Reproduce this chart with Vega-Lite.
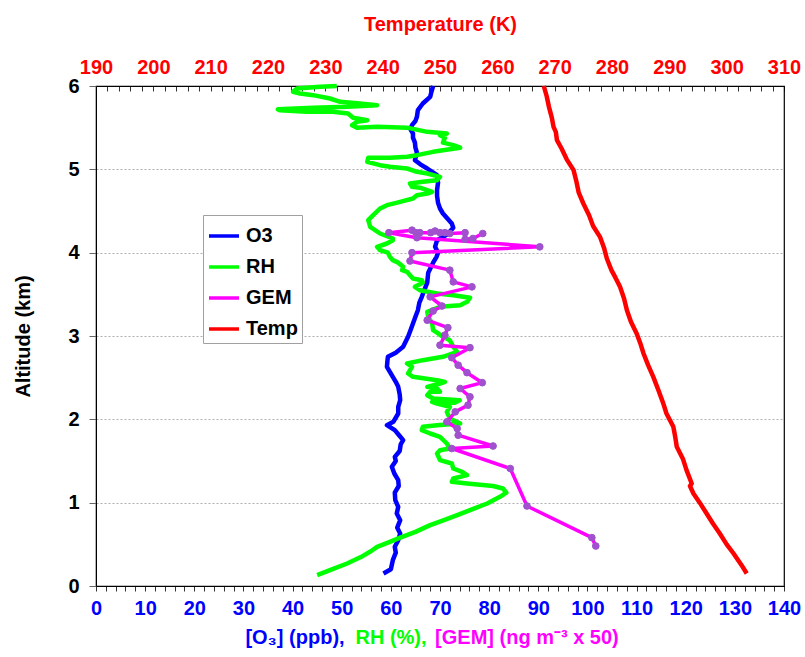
{
  "$schema": "https://vega.github.io/schema/vega-lite/v6.json",
  "width": 688,
  "height": 500,
  "autosize": "none",
  "padding": {"left": 96, "top": 86, "right": 21, "bottom": 71},
  "background": "white",
  "config": {
    "font": "Liberation Sans",
    "view": {"stroke": "black", "strokeWidth": 1.2},
    "axis": {"labelFont": "Liberation Sans", "titleFont": "Liberation Sans", "labelOverlap": false},
    "legend": {"labelFont": "Liberation Sans"}
  },
  "datasets": {
    "o3": [
      {"alt": 0.15, "val": 58.5}, {"alt": 0.2, "val": 60.0}, {"alt": 0.31, "val": 60.4}, {"alt": 0.4, "val": 61.0},
      {"alt": 0.47, "val": 60.8}, {"alt": 0.55, "val": 61.5}, {"alt": 0.63, "val": 61.9}, {"alt": 0.7, "val": 61.3},
      {"alt": 0.79, "val": 61.9}, {"alt": 0.87, "val": 61.2}, {"alt": 0.95, "val": 61.5}, {"alt": 1.03, "val": 60.9},
      {"alt": 1.12, "val": 60.8}, {"alt": 1.2, "val": 61.6}, {"alt": 1.27, "val": 61.5}, {"alt": 1.35, "val": 60.7},
      {"alt": 1.43, "val": 60.2}, {"alt": 1.5, "val": 61.0}, {"alt": 1.55, "val": 60.8}, {"alt": 1.62, "val": 61.8},
      {"alt": 1.7, "val": 62.0}, {"alt": 1.75, "val": 62.5}, {"alt": 1.8, "val": 61.8}, {"alt": 1.87, "val": 60.8},
      {"alt": 1.93, "val": 59.2}, {"alt": 1.97, "val": 60.5}, {"alt": 2.07, "val": 61.5}, {"alt": 2.15, "val": 61.5},
      {"alt": 2.23, "val": 61.9}, {"alt": 2.3, "val": 61.8}, {"alt": 2.39, "val": 61.5}, {"alt": 2.45, "val": 61.0},
      {"alt": 2.51, "val": 60.4}, {"alt": 2.57, "val": 59.8}, {"alt": 2.63, "val": 59.2}, {"alt": 2.7, "val": 59.3},
      {"alt": 2.75, "val": 59.4}, {"alt": 2.8, "val": 61.0}, {"alt": 2.87, "val": 62.5}, {"alt": 2.93, "val": 63.0},
      {"alt": 2.99, "val": 63.5}, {"alt": 3.07, "val": 64.0}, {"alt": 3.15, "val": 64.5}, {"alt": 3.23, "val": 65.0},
      {"alt": 3.31, "val": 65.5}, {"alt": 3.4, "val": 65.8}, {"alt": 3.47, "val": 66.3}, {"alt": 3.55, "val": 66.8},
      {"alt": 3.64, "val": 67.4}, {"alt": 3.76, "val": 67.6}, {"alt": 3.88, "val": 68.6}, {"alt": 3.95, "val": 69.3},
      {"alt": 4.0, "val": 69.6}, {"alt": 4.07, "val": 69.0}, {"alt": 4.15, "val": 69.4}, {"alt": 4.22, "val": 71.5},
      {"alt": 4.3, "val": 72.7}, {"alt": 4.35, "val": 72.4}, {"alt": 4.41, "val": 71.5}, {"alt": 4.47, "val": 70.6},
      {"alt": 4.53, "val": 70.0}, {"alt": 4.6, "val": 69.6}, {"alt": 4.68, "val": 69.4}, {"alt": 4.75, "val": 69.4},
      {"alt": 4.84, "val": 69.6}, {"alt": 4.93, "val": 69.4}, {"alt": 5.01, "val": 67.4}, {"alt": 5.06, "val": 66.0},
      {"alt": 5.11, "val": 64.9}, {"alt": 5.2, "val": 65.3}, {"alt": 5.26, "val": 65.0}, {"alt": 5.32, "val": 64.9},
      {"alt": 5.38, "val": 64.5}, {"alt": 5.43, "val": 64.5}, {"alt": 5.48, "val": 64.0}, {"alt": 5.53, "val": 64.3},
      {"alt": 5.58, "val": 65.0}, {"alt": 5.63, "val": 65.3}, {"alt": 5.71, "val": 65.5}, {"alt": 5.79, "val": 66.5},
      {"alt": 5.87, "val": 68.0}, {"alt": 5.94, "val": 68.3}, {"alt": 6.0, "val": 68.6}
    ],
    "rh": [
      {"alt": 0.13, "val": 45.0}, {"alt": 0.2, "val": 48.0}, {"alt": 0.27, "val": 51.1}, {"alt": 0.35, "val": 54.0},
      {"alt": 0.42, "val": 56.0}, {"alt": 0.47, "val": 57.2}, {"alt": 0.53, "val": 59.8}, {"alt": 0.58, "val": 61.9},
      {"alt": 0.65, "val": 65.0}, {"alt": 0.73, "val": 68.0}, {"alt": 0.79, "val": 70.8}, {"alt": 0.85, "val": 73.5},
      {"alt": 0.92, "val": 76.5}, {"alt": 0.99, "val": 79.6}, {"alt": 1.07, "val": 82.2}, {"alt": 1.12, "val": 83.5},
      {"alt": 1.17, "val": 82.8}, {"alt": 1.2, "val": 80.8}, {"alt": 1.23, "val": 75.5}, {"alt": 1.25, "val": 72.4},
      {"alt": 1.29, "val": 72.7}, {"alt": 1.33, "val": 75.5}, {"alt": 1.37, "val": 74.5}, {"alt": 1.41, "val": 72.7},
      {"alt": 1.47, "val": 72.4}, {"alt": 1.51, "val": 70.0}, {"alt": 1.59, "val": 69.4}, {"alt": 1.63, "val": 70.0},
      {"alt": 1.65, "val": 72.0}, {"alt": 1.71, "val": 71.4}, {"alt": 1.79, "val": 70.0}, {"alt": 1.83, "val": 68.0},
      {"alt": 1.87, "val": 66.3}, {"alt": 1.91, "val": 66.5}, {"alt": 1.93, "val": 69.4}, {"alt": 1.95, "val": 74.1},
      {"alt": 2.01, "val": 72.0}, {"alt": 2.09, "val": 71.4}, {"alt": 2.15, "val": 72.0}, {"alt": 2.19, "val": 69.4},
      {"alt": 2.21, "val": 68.4}, {"alt": 2.2, "val": 73.0}, {"alt": 2.23, "val": 74.0}, {"alt": 2.25, "val": 68.6},
      {"alt": 2.29, "val": 67.4}, {"alt": 2.33, "val": 68.0}, {"alt": 2.33, "val": 70.0}, {"alt": 2.37, "val": 69.4},
      {"alt": 2.39, "val": 67.4}, {"alt": 2.43, "val": 70.0}, {"alt": 2.45, "val": 71.0}, {"alt": 2.47, "val": 69.4},
      {"alt": 2.51, "val": 64.5}, {"alt": 2.55, "val": 63.5}, {"alt": 2.63, "val": 64.3}, {"alt": 2.67, "val": 63.3},
      {"alt": 2.71, "val": 66.5}, {"alt": 2.75, "val": 70.6}, {"alt": 2.81, "val": 73.5}, {"alt": 2.87, "val": 72.7},
      {"alt": 2.95, "val": 72.0}, {"alt": 2.99, "val": 70.6}, {"alt": 3.04, "val": 69.4}, {"alt": 3.07, "val": 68.6},
      {"alt": 3.15, "val": 68.4}, {"alt": 3.23, "val": 67.6}, {"alt": 3.29, "val": 67.4}, {"alt": 3.35, "val": 70.0},
      {"alt": 3.37, "val": 74.1}, {"alt": 3.41, "val": 75.5}, {"alt": 3.46, "val": 76.1}, {"alt": 3.49, "val": 72.7},
      {"alt": 3.51, "val": 69.4}, {"alt": 3.55, "val": 65.9}, {"alt": 3.59, "val": 64.9}, {"alt": 3.64, "val": 66.5},
      {"alt": 3.67, "val": 66.3}, {"alt": 3.69, "val": 64.5}, {"alt": 3.73, "val": 63.9}, {"alt": 3.77, "val": 63.3},
      {"alt": 3.79, "val": 62.3}, {"alt": 3.83, "val": 62.5}, {"alt": 3.88, "val": 61.5}, {"alt": 3.91, "val": 60.4},
      {"alt": 3.95, "val": 59.8}, {"alt": 4.0, "val": 59.4}, {"alt": 4.03, "val": 57.8}, {"alt": 4.07, "val": 57.2},
      {"alt": 4.11, "val": 59.2}, {"alt": 4.15, "val": 60.4}, {"alt": 4.17, "val": 60.4}, {"alt": 4.23, "val": 57.8},
      {"alt": 4.31, "val": 55.8}, {"alt": 4.39, "val": 55.4}, {"alt": 4.45, "val": 56.4}, {"alt": 4.53, "val": 57.8},
      {"alt": 4.57, "val": 59.2}, {"alt": 4.6, "val": 61.3}, {"alt": 4.65, "val": 64.5}, {"alt": 4.69, "val": 65.3},
      {"alt": 4.71, "val": 67.4}, {"alt": 4.73, "val": 68.4}, {"alt": 4.78, "val": 65.9}, {"alt": 4.79, "val": 64.3},
      {"alt": 4.83, "val": 63.9}, {"alt": 4.85, "val": 66.5}, {"alt": 4.87, "val": 69.4}, {"alt": 4.91, "val": 70.0},
      {"alt": 4.95, "val": 67.4}, {"alt": 4.97, "val": 65.3}, {"alt": 5.01, "val": 63.3}, {"alt": 5.03, "val": 59.8},
      {"alt": 5.05, "val": 57.8}, {"alt": 5.09, "val": 55.2}, {"alt": 5.14, "val": 55.4}, {"alt": 5.14, "val": 59.8},
      {"alt": 5.15, "val": 63.3}, {"alt": 5.17, "val": 65.3}, {"alt": 5.21, "val": 68.6}, {"alt": 5.23, "val": 70.6},
      {"alt": 5.26, "val": 74.1}, {"alt": 5.29, "val": 72.7}, {"alt": 5.32, "val": 70.6}, {"alt": 5.38, "val": 71.0},
      {"alt": 5.41, "val": 70.0}, {"alt": 5.43, "val": 71.4}, {"alt": 5.45, "val": 67.4}, {"alt": 5.5, "val": 63.3},
      {"alt": 5.51, "val": 57.2}, {"alt": 5.5, "val": 53.1}, {"alt": 5.53, "val": 52.1}, {"alt": 5.57, "val": 53.1},
      {"alt": 5.59, "val": 55.2}, {"alt": 5.62, "val": 52.3}, {"alt": 5.67, "val": 51.3}, {"alt": 5.69, "val": 48.2},
      {"alt": 5.69, "val": 42.9}, {"alt": 5.71, "val": 37.4}, {"alt": 5.72, "val": 37.0}, {"alt": 5.74, "val": 44.2},
      {"alt": 5.75, "val": 51.1}, {"alt": 5.77, "val": 57.2}, {"alt": 5.79, "val": 53.7}, {"alt": 5.81, "val": 49.7},
      {"alt": 5.85, "val": 47.6}, {"alt": 5.89, "val": 44.2}, {"alt": 5.91, "val": 41.5}, {"alt": 5.93, "val": 40.1},
      {"alt": 5.97, "val": 40.9}, {"alt": 5.99, "val": 45.6}, {"alt": 6.0, "val": 49.0}
    ],
    "gem": [
      {"alt": 0.48, "val": 101.7}, {"alt": 0.58, "val": 100.9}, {"alt": 0.96, "val": 87.7}, {"alt": 1.41, "val": 84.3},
      {"alt": 1.65, "val": 72.4}, {"alt": 1.68, "val": 80.8}, {"alt": 1.81, "val": 73.7}, {"alt": 1.89, "val": 73.5},
      {"alt": 1.97, "val": 71.4}, {"alt": 2.09, "val": 73.1}, {"alt": 2.17, "val": 75.7}, {"alt": 2.27, "val": 76.1},
      {"alt": 2.37, "val": 74.1}, {"alt": 2.44, "val": 78.6}, {"alt": 2.56, "val": 75.5}, {"alt": 2.65, "val": 73.7},
      {"alt": 2.74, "val": 72.4}, {"alt": 2.86, "val": 76.1}, {"alt": 2.89, "val": 70.0}, {"alt": 3.01, "val": 71.0},
      {"alt": 3.1, "val": 71.6}, {"alt": 3.19, "val": 67.4}, {"alt": 3.3, "val": 68.6}, {"alt": 3.36, "val": 70.4},
      {"alt": 3.47, "val": 68.0}, {"alt": 3.59, "val": 76.5}, {"alt": 3.65, "val": 72.7}, {"alt": 3.79, "val": 72.0},
      {"alt": 3.9, "val": 63.9}, {"alt": 4.0, "val": 64.3}, {"alt": 4.07, "val": 90.3}, {"alt": 4.18, "val": 65.3},
      {"alt": 4.24, "val": 59.6}, {"alt": 4.27, "val": 64.3}, {"alt": 4.24, "val": 65.1}, {"alt": 4.24, "val": 65.9},
      {"alt": 4.24, "val": 68.1}, {"alt": 4.26, "val": 69.0}, {"alt": 4.24, "val": 70.0}, {"alt": 4.24, "val": 71.0},
      {"alt": 4.23, "val": 72.0}, {"alt": 4.24, "val": 75.1}, {"alt": 4.16, "val": 75.1}, {"alt": 4.17, "val": 76.7},
      {"alt": 4.23, "val": 78.7}
    ],
    "temp": [
      {"alt": 0.15, "val": 303.5}, {"alt": 0.25, "val": 302.6}, {"alt": 0.39, "val": 301.2}, {"alt": 0.5, "val": 300.0},
      {"alt": 0.63, "val": 298.8}, {"alt": 0.75, "val": 297.6}, {"alt": 0.87, "val": 296.5}, {"alt": 1.0, "val": 295.3},
      {"alt": 1.11, "val": 294.2}, {"alt": 1.2, "val": 293.6}, {"alt": 1.23, "val": 293.9}, {"alt": 1.39, "val": 293.0},
      {"alt": 1.52, "val": 292.4}, {"alt": 1.67, "val": 291.3}, {"alt": 1.8, "val": 291.0}, {"alt": 1.91, "val": 290.7},
      {"alt": 2.07, "val": 289.5}, {"alt": 2.2, "val": 288.9}, {"alt": 2.35, "val": 288.1}, {"alt": 2.51, "val": 287.2},
      {"alt": 2.65, "val": 286.3}, {"alt": 2.79, "val": 285.5}, {"alt": 2.9, "val": 285.0}, {"alt": 3.03, "val": 284.3},
      {"alt": 3.17, "val": 283.3}, {"alt": 3.31, "val": 282.6}, {"alt": 3.45, "val": 282.1}, {"alt": 3.59, "val": 281.4},
      {"alt": 3.7, "val": 280.6}, {"alt": 3.79, "val": 279.9}, {"alt": 3.93, "val": 279.1}, {"alt": 4.06, "val": 278.6},
      {"alt": 4.19, "val": 277.9}, {"alt": 4.32, "val": 276.7}, {"alt": 4.45, "val": 276.0}, {"alt": 4.59, "val": 275.0},
      {"alt": 4.72, "val": 274.2}, {"alt": 4.85, "val": 273.8}, {"alt": 4.99, "val": 273.3}, {"alt": 5.12, "val": 272.1},
      {"alt": 5.25, "val": 271.2}, {"alt": 5.35, "val": 270.4}, {"alt": 5.45, "val": 270.2}, {"alt": 5.51, "val": 269.8},
      {"alt": 5.62, "val": 269.5}, {"alt": 5.75, "val": 269.0}, {"alt": 5.88, "val": 268.6}, {"alt": 6.0, "val": 268.1}
    ]
  },
  "resolve": {"scale": {"x": "independent"}, "axis": {"x": "independent"}},
  "layer": [
    {
      "encoding": {
        "x": {
          "type": "quantitative",
          "scale": {"domain": [0, 140], "nice": false, "zero": false},
          "axis": {
            "orient": "bottom", "title": null, "grid": false,
            "values": [0,2,4,6,8,10,12,14,16,18,20,22,24,26,28,30,32,34,36,38,40,42,44,46,48,50,52,54,56,58,60,62,64,66,68,70,72,74,76,78,80,82,84,86,88,90,92,94,96,98,100,102,104,106,108,110,112,114,116,118,120,122,124,126,128,130,132,134,136,138,140],
            "labelExpr": "datum.value % 10 === 0 ? datum.label : ''",
            "labelColor": "#0000ff", "labelFontSize": 20, "labelFontWeight": "bold",
            "labelPadding": 7, "labelFlush": false, "labelOverlap": false, "labelBound": false,
            "tickSize": 5, "tickColor": "black", "tickWidth": 0.8, "domainColor": "black", "domainWidth": 1.2
          }
        },
        "y": {
          "type": "quantitative",
          "scale": {"domain": [0, 6], "nice": false},
          "axis": {
            "title": "Altitude (km)", "titleFontSize": 20, "titleFontWeight": "bold", "titleColor": "black", "titlePadding": 34,
            "values": [0, 1, 2, 3, 4, 5, 6], "format": "d",
            "labelFontSize": 20, "labelFontWeight": "bold", "labelColor": "black", "labelPadding": 10,
            "tickSize": 7, "tickColor": "#666", "domainColor": "black",
            "grid": true, "gridColor": "#9a9a9a", "gridDash": [2, 2], "gridWidth": 0.8
          }
        }
      },
      "layer": [
        {
          "data": {"name": "o3"},
          "transform": [{"calculate": "'O3'", "as": "series"}],
          "mark": {"type": "line", "strokeWidth": 4.5, "strokeJoin": "round"},
          "encoding": {
            "x": {"field": "val"},
            "y": {"field": "alt"},
            "color": {
              "field": "series", "type": "nominal",
              "scale": {"domain": ["O3", "RH", "GEM", "Temp"], "range": ["#0000ff", "#00ff00", "#ff00ff", "#ff0000"]},
              "legend": {
                "title": null, "orient": "none", "legendX": 107, "legendY": 129,
                "symbolType": "stroke", "symbolStrokeWidth": 3.5, "symbolSize": 900,
                "labelFontSize": 20, "labelFontWeight": "bold", "labelColor": "black", "labelOffset": 5,
                "rowPadding": 4, "padding": 4, "strokeColor": "#a0a0a0", "fillColor": "white"
              }
            },
            "order": {"value": null}
          }
        },
        {
          "data": {"name": "rh"},
          "transform": [{"calculate": "'RH'", "as": "series"}],
          "mark": {"type": "line", "strokeWidth": 4.5, "strokeJoin": "round"},
          "encoding": {
            "x": {"field": "val"},
            "y": {"field": "alt"},
            "color": {"field": "series", "type": "nominal"},
            "order": {"value": null}
          }
        },
        {
          "data": {"name": "gem"},
          "transform": [{"calculate": "'GEM'", "as": "series"}],
          "mark": {"type": "line", "strokeWidth": 3.5, "strokeJoin": "round"},
          "encoding": {
            "x": {"field": "val"},
            "y": {"field": "alt"},
            "color": {"field": "series", "type": "nominal"},
            "order": {"value": null}
          }
        },
        {
          "data": {"name": "gem"},
          "mark": {"type": "point", "filled": true, "size": 45, "color": "#a44fd0", "opacity": 1, "stroke": "#9a55c8", "strokeWidth": 1},
          "encoding": {
            "x": {"field": "val"},
            "y": {"field": "alt"}
          }
        },
        {
          "data": {"values": [{"t": "[O₃] (ppb),"}]},
          "mark": {"type": "text", "align": "left", "baseline": "middle", "fontSize": 20, "fontWeight": "bold", "color": "#0000ff"},
          "encoding": {
            "x": {"datum": 30.4},
            "y": {"datum": -0.62},
            "text": {"field": "t"}
          }
        },
        {
          "data": {"values": [{"t": "RH (%),"}]},
          "mark": {"type": "text", "align": "left", "baseline": "middle", "fontSize": 20, "fontWeight": "bold", "color": "#00ff00"},
          "encoding": {
            "x": {"datum": 52.8},
            "y": {"datum": -0.62},
            "text": {"field": "t"}
          }
        },
        {
          "data": {"values": [{"t": "[GEM] (ng m⁻³ x 50)"}]},
          "mark": {"type": "text", "align": "left", "baseline": "middle", "fontSize": 20, "fontWeight": "bold", "color": "#ff00ff"},
          "encoding": {
            "x": {"datum": 69.0},
            "y": {"datum": -0.62},
            "text": {"field": "t"}
          }
        }
      ]
    },
    {
      "data": {"name": "temp"},
      "transform": [{"calculate": "'Temp'", "as": "series"}],
      "mark": {"type": "line", "strokeWidth": 4.5, "strokeJoin": "round"},
      "encoding": {
        "x": {
          "field": "val", "type": "quantitative",
          "scale": {"domain": [190, 310], "nice": false, "zero": false},
          "axis": {
            "orient": "top", "title": "Temperature (K)", "titleColor": "#ff0000", "titleFontSize": 20, "titleFontWeight": "bold", "titlePadding": 23,
            "grid": false,
            "values": [190,192,194,196,198,200,202,204,206,208,210,212,214,216,218,220,222,224,226,228,230,232,234,236,238,240,242,244,246,248,250,252,254,256,258,260,262,264,266,268,270,272,274,276,278,280,282,284,286,288,290,292,294,296,298,300,302,304,306,308,310],
            "labelExpr": "datum.value % 10 === 0 ? datum.label : ''",
            "labelColor": "#ff0000", "labelFontSize": 20, "labelFontWeight": "bold",
            "labelPadding": 14, "labelFlush": false, "labelOverlap": false, "labelBound": false,
            "tickSize": -5, "tickColor": "black", "tickWidth": 0.8, "domainColor": "black", "domainWidth": 1.2
          }
        },
        "y": {"field": "alt", "type": "quantitative"},
        "color": {"field": "series", "type": "nominal"},
        "order": {"value": null}
      }
    }
  ]
}
